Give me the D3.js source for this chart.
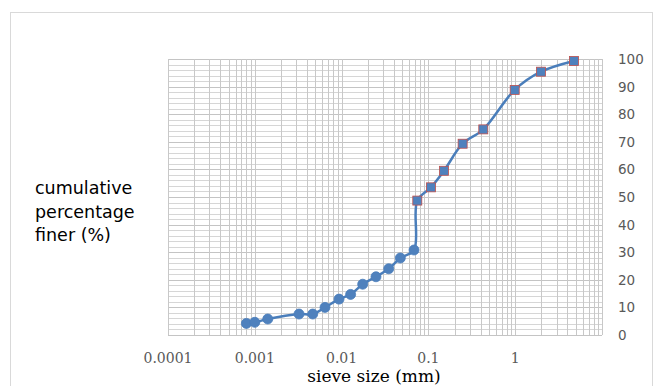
<!DOCTYPE html>
<html><head><meta charset="utf-8">
<script src="https://cdn.jsdelivr.net/npm/d3@7"></script>
<style>body{margin:0;background:#fff}svg{display:block}</style>
</head><body>
<svg id="c" width="658" height="386"></svg>
<script>
// data
const sizesFine = [0.0008, 0.001, 0.00141, 0.00323, 0.00465, 0.00644, 0.00934, 0.0127, 0.0175, 0.0249, 0.0349, 0.0475, 0.0683];
const finerFine = [4.2, 4.6, 5.8, 7.6, 7.6, 10.0, 13.0, 14.7, 18.4, 21.1, 24.0, 27.9, 30.8];
const sizesSieve = [0.0745, 0.107, 0.151, 0.248, 0.429, 0.987, 1.98, 4.75];
const finerSieve = [48.7, 53.5, 59.5, 69.3, 74.5, 88.8, 95.4, 99.3];
const xTickValues = [0.0001, 0.001, 0.01, 0.1, 1];
const xTickLabels = ["0.0001", "0.001", "0.01", "0.1", "1"];
const yTickValues = [0, 10, 20, 30, 40, 50, 60, 70, 80, 90, 100];

const svg = d3.select("#c");
const L = 168, R = 602, T = 59, B = 335;
const x = d3.scaleLog().domain([0.0001, 10]).range([L, R]);
const y = d3.scaleLinear().domain([0, 100]).range([B, T]);

// outer border
svg.append("rect").attr("x", 10.5).attr("y", 12.5).attr("width", 642).attr("height", 380)
  .attr("fill", "none").attr("stroke", "#d9d9d9").attr("stroke-width", 1);

// grid
const g = svg.append("g");
const hVals = d3.range(0, 101, 2);
g.selectAll("line.h").data(hVals).join("line")
  .attr("x1", L).attr("x2", R)
  .attr("y1", d => Math.round(y(d)) + 0.5).attr("y2", d => Math.round(y(d)) + 0.5)
  .attr("stroke", d => d % 10 === 0 ? "#c4c4c4" : "#d6d6d6").attr("stroke-width", 1);
const vVals = [];
for (let e = -4; e < 1; e++) for (let m = 1; m <= 9; m++) vVals.push(m * Math.pow(10, e));
vVals.push(10);
g.selectAll("line.v").data(vVals).join("line")
  .attr("y1", T).attr("y2", B)
  .attr("x1", d => Math.round(x(d)) + 0.5).attr("x2", d => Math.round(x(d)) + 0.5)
  .attr("stroke", "#c8c8c8").attr("stroke-width", 1);

// x tick labels
svg.append("g").selectAll("text").data(xTickValues).join("text")
  .attr("x", d => x(d)).attr("y", 363).attr("text-anchor", "middle")
  .attr("font-family", "DejaVu Serif, serif").attr("font-size", 14)
  .attr("fill", "#595959").text((d, i) => xTickLabels[i]);

// y tick labels
svg.append("g").selectAll("text").data(yTickValues).join("text")
  .attr("x", 618).attr("y", d => y(d) + 5).attr("text-anchor", "start")
  .attr("font-family", "DejaVu Sans, sans-serif").attr("font-size", 13.5)
  .attr("fill", "#595959").text(d => d);

// axis titles
svg.append("text").attr("x", 374).attr("y", 382).attr("text-anchor", "middle")
  .attr("font-family", "DejaVu Serif, serif").attr("font-size", 17).attr("fill", "#000")
  .text("sieve size (mm)");
const yt = svg.append("text").attr("font-family", "DejaVu Sans, sans-serif")
  .attr("font-size", 17.5).attr("fill", "#000");
["cumulative", "percentage", "finer (%)"].forEach((t, i) => {
  yt.append("tspan").attr("x", 35).attr("y", 194 + i * 23.5).text(t);
});

// line
const pts = sizesFine.map((s, i) => [s, finerFine[i]]).concat(sizesSieve.map((s, i) => [s, finerSieve[i]]));
const line = d3.line().x(d => x(d[0])).y(d => y(d[1])).curve(d3.curveCatmullRom.alpha(0.5));
svg.append("path").attr("d", line(pts)).attr("fill", "none")
  .attr("stroke", "#4A7EBB").attr("stroke-width", 2.5);

// markers
svg.append("g").selectAll("circle").data(sizesFine).join("circle")
  .attr("cx", d => x(d)).attr("cy", (d, i) => y(finerFine[i])).attr("r", 5)
  .attr("fill", "#4F81BD").attr("stroke", "#4A7EBB").attr("stroke-width", 0.8);
svg.append("g").selectAll("rect").data(sizesSieve).join("rect")
  .attr("x", d => x(d) - 4.5).attr("y", (d, i) => y(finerSieve[i]) - 4.5)
  .attr("width", 9).attr("height", 9)
  .attr("fill", "#4F81BD").attr("stroke", "#C0504D").attr("stroke-width", 0.8);
</script>
</body></html>
